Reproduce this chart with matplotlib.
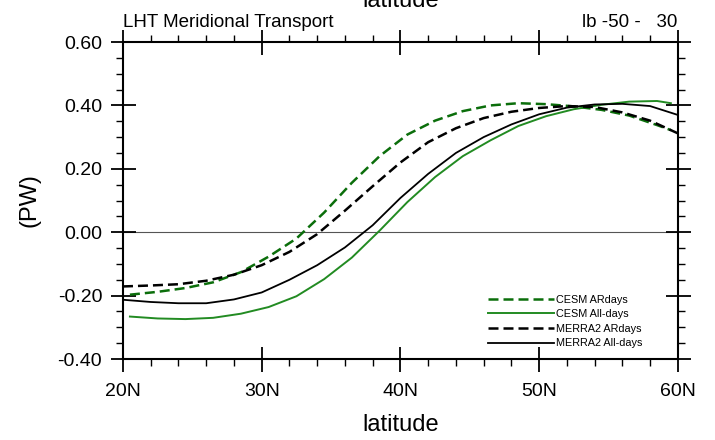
import numpy as np
import matplotlib
matplotlib.use("Agg")
import matplotlib.pyplot as plt
from matplotlib.ticker import MultipleLocator, FuncFormatter

plt.rcParams['font.family'] = ['Liberation Sans', 'DejaVu Sans']

# MERRA2 latitudes (2 degree sampling) and CESM latitudes (offset grid)
lat_merra = [20, 22, 24, 26, 28, 30, 32, 34, 36, 38, 40,
             42, 44, 46, 48, 50, 52, 54, 56, 58, 60]
lat_cesm = [20.5, 22.5, 24.5, 26.5, 28.5, 30.5, 32.5, 34.5, 36.5, 38.5, 40.5,
            42.5, 44.5, 46.5, 48.5, 50.5, 52.5, 54.5, 56.5, 58.5, 59.5]

# latent heat transport, PW
cesm_ar = [-0.197, -0.188, -0.176, -0.158, -0.126, -0.077, -0.020, 0.062, 0.156, 0.240, 0.308,
           0.352, 0.382, 0.400, 0.407, 0.404, 0.397, 0.386, 0.368, 0.338, 0.322]
cesm_all = [-0.266, -0.272, -0.274, -0.270, -0.257, -0.236, -0.202, -0.148, -0.080, 0.005, 0.095,
            0.174, 0.240, 0.290, 0.335, 0.366, 0.388, 0.402, 0.412, 0.414, 0.407]
merra_ar = [-0.171, -0.168, -0.164, -0.153, -0.134, -0.104, -0.062, -0.006, 0.068, 0.145, 0.220,
            0.284, 0.328, 0.360, 0.380, 0.392, 0.398, 0.395, 0.378, 0.352, 0.312]
merra_all = [-0.213, -0.220, -0.224, -0.224, -0.212, -0.190, -0.150, -0.104, -0.048, 0.022, 0.108,
             0.184, 0.250, 0.300, 0.340, 0.372, 0.393, 0.403, 0.405, 0.398, 0.370]

series_labels = ['CESM ARdays', 'CESM All-days', 'MERRA2 ARdays', 'MERRA2 All-days']

fig = plt.figure(figsize=(7.15, 4.4), dpi=100, facecolor='white')
ax = fig.add_axes([0.172, 0.184, 0.776, 0.7205])

ax.axhline(0, color='#555555', lw=0.8, zorder=1)

ax.plot(lat_cesm, cesm_ar, color='#0b6e0b', lw=1.8, dashes=(4, 2), label=series_labels[0])
ax.plot(lat_cesm, cesm_all, color='#228b22', lw=1.4, label=series_labels[1])
ax.plot(lat_merra, merra_ar, color='black', lw=1.8, dashes=(4, 2), label=series_labels[2])
ax.plot(lat_merra, merra_all, color='black', lw=1.3, label=series_labels[3])

ax.set_xlim(20, 60)
ax.set_ylim(-0.4, 0.6)

ax.xaxis.set_major_locator(MultipleLocator(10))
ax.xaxis.set_minor_locator(MultipleLocator(2))
ax.yaxis.set_major_locator(MultipleLocator(0.2))
ax.yaxis.set_minor_locator(MultipleLocator(0.05))
ax.xaxis.set_major_formatter(FuncFormatter(lambda v, p: f"{int(round(v))}N"))
ax.yaxis.set_major_formatter(FuncFormatter(lambda v, p: f"{v:.2f}"))

ax.tick_params(which='both', top=True, right=True, width=1.3, labelsize=14)
ax.tick_params(which='major', direction='inout', length=18, pad=6)
ax.tick_params(which='minor', direction='out', length=5, width=1.0)
ax.tick_params(axis='x', which='major', pad=8)
for sp in ax.spines.values():
    sp.set_linewidth(1.5)

ax.set_xlabel('latitude', fontsize=17, labelpad=10)
ax.set_ylabel('(PW)', fontsize=17, labelpad=12)

ax.text(0.0, 1.035, 'LHT Meridional Transport', transform=ax.transAxes,
        fontsize=13.5, ha='left', va='bottom')
ax.text(1.0, 1.035, 'lb -50 -   30', transform=ax.transAxes,
        fontsize=13.5, ha='right', va='bottom')
# top-axis title sits mostly above the page edge
fig.text(0.5605, 0.984, 'latitude', fontsize=17, ha='center', va='baseline')

ax.legend(loc='upper left', bbox_to_anchor=(0.657, 0.203), frameon=False,
          fontsize=7.8, handlelength=6.1, handletextpad=0.2, labelspacing=0.42,
          borderpad=0, borderaxespad=0)

fig.savefig('out.png', dpi=100, facecolor='white')
